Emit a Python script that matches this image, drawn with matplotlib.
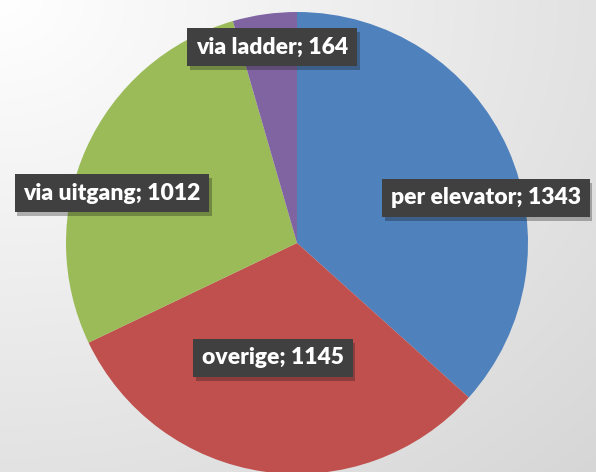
import numpy as np
import matplotlib.pyplot as plt
from matplotlib import patheffects

labels = ['per elevator', 'overige', 'via uitgang', 'via ladder']
values = [1343, 1145, 1012, 164]
colors = ['#4f81bd', '#c0504d', '#9bbb59', '#8064a2']
# label anchor positions (pixel coords)
label_pos = [(486, 198), (273, 358), (112, 193), (272, 47)]

fig = plt.figure(figsize=(5.96, 4.72), dpi=100)
ax = fig.add_axes([0, 0, 1, 1])

# background gradient: light top-left to grey bottom-right
yy, xx = np.mgrid[0:472, 0:596]
d = np.sqrt((xx / 596.0) ** 2 + (yy / 472.0) ** 2) / np.sqrt(2)
g = 1.0 - 0.16 * d
ax.imshow(np.dstack([g, g, g]), extent=(0, 596, 472, 0), zorder=0)

# y axis is inverted, so angles are mirrored
ax.pie(values, colors=colors, startangle=-90, counterclock=True,
       center=(297, 243), radius=231, frame=True,
       wedgeprops=dict(linewidth=0, zorder=2))
ax.set_xlim(0, 596)
ax.set_ylim(472, 0)
ax.set_aspect('equal')
ax.axis('off')

for lab, v, (x, y) in zip(labels, values, label_pos):
    ax.text(x, y, f'{lab}; {v}', ha='center', va='center', color='white',
            fontsize=16.5, fontweight='heavy', family='Lato', zorder=5,
            bbox=dict(boxstyle='square,pad=0.38', facecolor='#404040',
                      linewidth=0,
                      path_effects=[patheffects.withSimplePatchShadow(offset=(2, -3), alpha=0.3)]))

fig.savefig('out.png', dpi=100)
